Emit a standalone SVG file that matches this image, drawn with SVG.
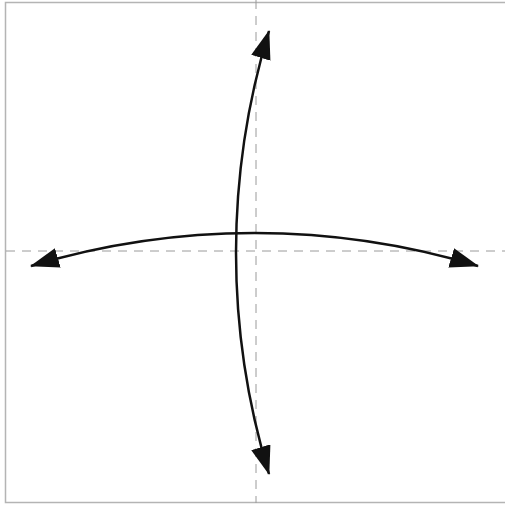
<svg xmlns="http://www.w3.org/2000/svg" width="505" height="506" viewBox="0 0 505 506">
<style>
.frame{fill:#fff;stroke:#b4b4b4;stroke-width:1.5}
.guide{stroke:#9a9a9a;stroke-width:1;stroke-dasharray:9,7;fill:none}
.arc{stroke:#111;stroke-width:2.5;fill:none;marker-start:url(#ah);marker-end:url(#ah)}
</style>
<defs>
<marker id="ah" markerUnits="userSpaceOnUse" markerWidth="32" markerHeight="24" refX="28" refY="10" orient="auto-start-reverse">
<path d="M0,0 L29,10 L0,20 z" fill="#111"/>
</marker>
</defs>
<rect class="frame" x="5.5" y="2.5" width="502" height="500"/>
<g id="guides">
<line class="guide" x1="256" y1="0" x2="256" y2="503"/>
<line class="guide" x1="6" y1="251" x2="505" y2="251"/>
</g>
<g id="connectors">
<path class="arc" d="M31,266 A773,773 0 0,1 478,266"/>
<path class="arc" d="M269,31 A760,760 0 0,0 269,474"/>
</g>
</svg>
